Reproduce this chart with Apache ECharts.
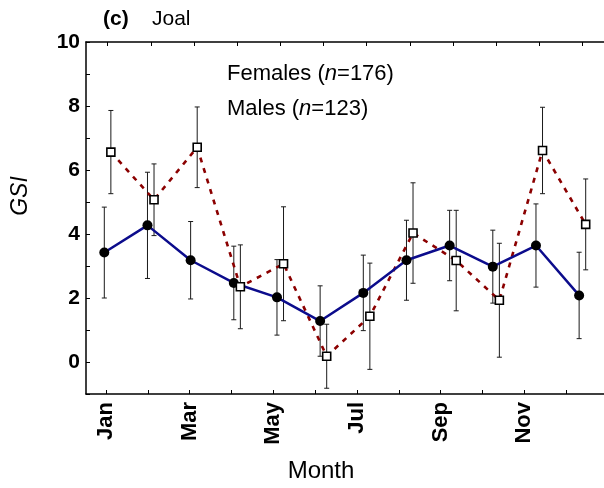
<!DOCTYPE html>
<html>
<head>
<meta charset="utf-8">
<script src="https://cdn.jsdelivr.net/npm/echarts@6/dist/echarts.min.js"></script>
<style>
  html, body { margin: 0; padding: 0; background: #fff; }
  #chart { width: 604px; height: 488px; }
</style>
</head>
<body>
<div id="chart"></div>
<script>
// Monthly gonadosomatic index (GSI), Joal: mean and standard deviation
const months = ['Jan', 'Feb', 'Mar', 'Apr', 'May', 'Jun', 'Jul', 'Aug', 'Sep', 'Oct', 'Nov', 'Dec'];
const femaleMean = [3.42, 4.27, 3.18, 2.47, 2.02, 1.28, 2.16, 3.18, 3.64, 2.98, 3.64, 2.08];
const femaleSD   = [1.42, 1.66, 1.21, 1.15, 1.18, 1.10, 1.18, 1.25, 1.10, 1.14, 1.30, 1.35];
const maleMean   = [6.56, 5.07, 6.71, 2.35, 3.07, 0.18, 1.43, 4.03, 3.17, 1.93, 6.61, 4.30];
const maleSD     = [1.30, 1.12, 1.26, 1.31, 1.78, 1.00, 1.66, 1.57, 1.57, 1.78, 1.35, 1.42];
const yTicks = [0, 2, 4, 6, 8, 10];

const FONT = '"Liberation Sans", Arial, sans-serif';
// horizontal dodge of the two sexes around each month (in month units)
const DODGE = 0.076;

const femalePts = femaleMean.map((v, i) => [i - DODGE, v]);
const malePts = maleMean.map((v, i) => [i + DODGE, v]);
const femaleErr = femaleMean.map((v, i) => [i - DODGE, v, femaleSD[i]]);
const maleErr = maleMean.map((v, i) => [i + DODGE, v, maleSD[i]]);

function errorBar(params, api) {
  const x = api.value(0), m = api.value(1), s = api.value(2);
  const top = api.coord([x, m + s]);
  const bot = api.coord([x, m - s]);
  const cap = 2.5;
  const st = { stroke: '#1a1a1a', lineWidth: 1 };
  return {
    type: 'group',
    children: [
      { type: 'line', shape: { x1: top[0], y1: top[1], x2: bot[0], y2: bot[1] }, style: st },
      { type: 'line', shape: { x1: top[0] - cap, y1: top[1], x2: top[0] + cap, y2: top[1] }, style: st },
      { type: 'line', shape: { x1: bot[0] - cap, y1: bot[1], x2: bot[0] + cap, y2: bot[1] }, style: st }
    ]
  };
}

const chart = echarts.init(document.getElementById('chart'), null, { renderer: 'canvas' });

chart.setOption({
  animation: false,
  backgroundColor: '#fff',
  textStyle: { fontFamily: FONT },
  grid: [
    { left: 86, right: -4, top: 42, bottom: 94 },
    { left: 85, width: 502, top: 42, bottom: 94 }
  ],
  xAxis: [
    {
      // data axis (bottom frame line)
      type: 'value', gridIndex: 0, position: 'bottom',
      min: -0.5, max: 11.5,
      axisLine: { show: true, onZero: false, lineStyle: { color: '#000', width: 1.5 } },
      axisTick: { show: false }, axisLabel: { show: false }, splitLine: { show: false }
    },
    {
      // top frame line with month ticks
      type: 'category', gridIndex: 0, position: 'top', data: months, boundaryGap: true,
      axisLine: { show: true, onZero: false, lineStyle: { color: '#000', width: 1.5 } },
      axisTick: { show: true, inside: true, alignWithLabel: true, length: 4, lineStyle: { color: '#000' } },
      axisLabel: { show: false }, splitLine: { show: false }
    },
    {
      // month labels along the bottom
      type: 'category', gridIndex: 1, position: 'bottom', data: months, boundaryGap: true,
      axisLine: { show: false, onZero: false },
      axisTick: { show: true, inside: true, alignWithLabel: true, interval: 0, length: 4, lineStyle: { color: '#000' } },
      axisLabel: {
        show: true, interval: 1, rotate: 90, margin: 8,
        fontFamily: FONT, fontSize: 22, fontWeight: 'bold', color: '#000'
      },
      splitLine: { show: false }
    }
  ],
  yAxis: [
    {
      type: 'value', gridIndex: 0, min: -1, max: 10, interval: 1,
      axisLine: { show: true, onZero: false, lineStyle: { color: '#000', width: 1.5 } },
      axisTick: { show: true, inside: true, length: 4, lineStyle: { color: '#000' } },
      axisLabel: {
        fontFamily: FONT, fontSize: 21, fontWeight: 'bold', color: '#000', margin: 6,
        formatter: v => (yTicks.indexOf(v) >= 0 ? String(v) : '')
      },
      splitLine: { show: false }
    },
    { type: 'value', gridIndex: 1, min: 0, max: 1, show: false }
  ],
  graphic: [
    {
      type: 'text', left: 103, top: 9,
      style: { text: '(c)', fontFamily: FONT, fontSize: 21, fontWeight: 'bold', fill: '#000' }
    },
    {
      type: 'text', left: 152, top: 9,
      style: { text: 'Joal', fontFamily: FONT, fontSize: 21, fill: '#000' }
    },
    {
      type: 'text', left: 227, top: 63,
      style: {
        text: '{a|Females (}{i|n}{a|=176)}',
        rich: {
          a: { fontFamily: FONT, fontSize: 22, fill: '#000' },
          i: { fontFamily: FONT, fontSize: 22, fontStyle: 'italic', fill: '#000' }
        }
      }
    },
    {
      type: 'text', left: 227, top: 98,
      style: {
        text: '{a|Males (}{i|n}{a|=123)}',
        rich: {
          a: { fontFamily: FONT, fontSize: 22, fill: '#000' },
          i: { fontFamily: FONT, fontSize: 22, fontStyle: 'italic', fill: '#000' }
        }
      }
    },
    {
      type: 'text', x: 21, y: 196, rotation: Math.PI / 2,
      style: {
        text: 'GSI', fontFamily: FONT, fontSize: 23, fontStyle: 'italic', fill: '#000',
        align: 'center', verticalAlign: 'middle'
      }
    },
    {
      type: 'text', x: 321, y: 471,
      style: {
        text: 'Month', fontFamily: FONT, fontSize: 24, fill: '#000',
        align: 'center', verticalAlign: 'middle'
      }
    }
  ],
  series: [
    {
      name: 'Males SD', type: 'custom', xAxisIndex: 0, yAxisIndex: 0,
      renderItem: errorBar, data: maleErr, z: 1, silent: true
    },
    {
      name: 'Females SD', type: 'custom', xAxisIndex: 0, yAxisIndex: 0,
      renderItem: errorBar, data: femaleErr, z: 1, silent: true
    },
    {
      name: 'Males', type: 'line', xAxisIndex: 0, yAxisIndex: 0, data: malePts,
      showSymbol: false, symbol: 'none', z: 2,
      lineStyle: { color: '#8b0000', width: 2.6, type: [5, 6] }
    },
    {
      name: 'Females', type: 'line', xAxisIndex: 0, yAxisIndex: 0, data: femalePts,
      showSymbol: false, symbol: 'none', z: 3,
      lineStyle: { color: '#0c0c8c', width: 2.5 }
    },
    {
      name: 'Females pts', type: 'scatter', xAxisIndex: 0, yAxisIndex: 0, data: femalePts,
      symbol: 'circle', symbolSize: 10, z: 4,
      itemStyle: { color: '#000', opacity: 1 }
    },
    {
      name: 'Males pts', type: 'scatter', xAxisIndex: 0, yAxisIndex: 0, data: malePts,
      symbol: 'rect', symbolSize: 8, z: 5,
      itemStyle: { color: '#fff', borderColor: '#000', borderWidth: 1.6, opacity: 1 }
    }
  ]
});
</script>
</body>
</html>
